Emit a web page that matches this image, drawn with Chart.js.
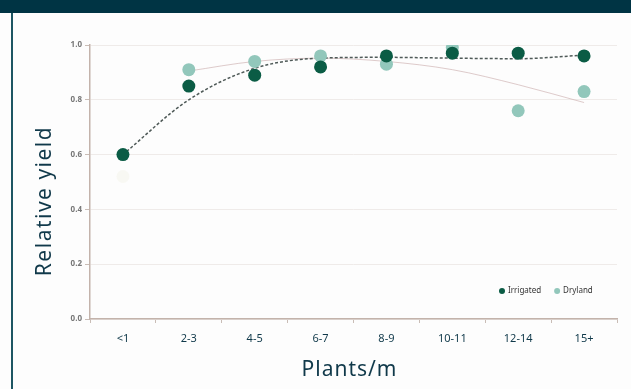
<!DOCTYPE html>
<html>
<head>
<meta charset="utf-8">
<script src="https://cdn.jsdelivr.net/npm/chart.js@4.4.1/dist/chart.umd.min.js"></script>
<style>
  html, body { margin: 0; padding: 0; background: #fff; }
  #wrap { position: relative; width: 631px; height: 389px; overflow: hidden; background: #fdfdfd; }
  #band { position: absolute; left: 0; top: 0; width: 631px; height: 13px; background: #003444; }
  #edge { position: absolute; left: 11px; top: 13px; width: 2px; height: 376px; background: #1d5663; }
  #cv { position: absolute; left: 0; top: 0; }
</style>
</head>
<body>
<div id="wrap">
  <canvas id="cv" width="631" height="389"></canvas>
  <div id="band"></div>
  <div id="edge"></div>
</div>
<script>
// categories and values
var plants = ['<1', '2-3', '4-5', '6-7', '8-9', '10-11', '12-14', '15+'];
var irrigated = [0.60, 0.85, 0.89, 0.92, 0.96, 0.97, 0.97, 0.96];
var dryland = [0.52, 0.91, 0.94, 0.96, 0.93, 0.99, 0.76, 0.83];
var irrigatedTrend = [0.60, 0.80, 0.915, 0.952, 0.955, 0.952, 0.95, 0.963];
var drylandTrend = [null, 0.905, 0.94, 0.952, 0.94, 0.91, 0.855, 0.79];
var yTicks = [0, 0.2, 0.4, 0.6, 0.8, 1.0];

var darkGreen = '#0b5c45';
var lightGreen = '#92c7bb';
var ink = '#10394a';

var dotColors = dryland.map(function(v, i) {
	return i === 0 ? 'rgba(238,238,222,0.3)' : lightGreen;
});

// legend in the bottom right corner of the plot + the two axis titles
var extras = {
	id: 'extras',
	afterDraw: function(chart) {
		var ctx = chart.ctx;
		var a = chart.chartArea;
		var y = a.bottom - 28;
		var items = [['Irrigated', darkGreen], ['Dryland', lightGreen]];
		var x = a.right - 115;
		ctx.save();
		ctx.font = '8px "Noto Sans"';
		ctx.textBaseline = 'middle';
		items.forEach(function(it) {
			ctx.fillStyle = it[1];
			ctx.beginPath();
			ctx.arc(x, y, 3, 0, Math.PI * 2);
			ctx.fill();
			ctx.fillStyle = '#333';
			ctx.fillText(it[0], x + 6, y);
			x += ctx.measureText(it[0]).width + 22;
		});

		ctx.fillStyle = ink;
		ctx.font = '21px "Noto Sans"';
		ctx.textAlign = 'center';
		ctx.letterSpacing = '1px';
		ctx.fillText('Plants/m', (a.left + a.right) / 2 - 4, a.bottom + 51);

		ctx.letterSpacing = '1.5px';
		ctx.translate(a.left - 45, (a.top + a.bottom) / 2 + 19);
		ctx.rotate(-Math.PI / 2);
		ctx.fillText('Relative yield', 0, 0);
		ctx.restore();
	}
};

var chart = new Chart(document.getElementById('cv'), {
	type: 'line',
	data: {
		labels: plants,
		datasets: [
			{
				label: 'Irrigated',
				data: irrigated,
				showLine: false,
				pointRadius: 6.5,
				pointBackgroundColor: darkGreen,
				pointBorderWidth: 0,
				order: 1
			},
			{
				label: 'Dryland',
				data: dryland,
				showLine: false,
				pointRadius: 6.5,
				pointBackgroundColor: dotColors,
				pointBorderWidth: 0,
				order: 2
			},
			{
				label: 'Irrigated trend',
				data: irrigatedTrend,
				borderColor: '#4f5a58',
				borderWidth: 1.5,
				borderDash: [3, 2],
				pointRadius: 0,
				cubicInterpolationMode: 'monotone',
				order: 3
			},
			{
				label: 'Dryland trend',
				data: drylandTrend,
				borderColor: 'rgba(205,175,175,0.65)',
				borderWidth: 1,
				pointRadius: 0,
				cubicInterpolationMode: 'monotone',
				order: 4
			}
		]
	},
	options: {
		responsive: false,
		animation: false,
		layout: { padding: { left: 26, right: 14, top: 45, bottom: 0 } },
		plugins: {
			legend: { display: false },
			tooltip: { enabled: false }
		},
		scales: {
			x: {
				offset: true,
				afterFit: function(scale) { scale.height = 70; },
				grid: { offset: true, drawOnChartArea: false, tickLength: 4, color: '#c9bdb6' },
				border: { color: '#c3b3ab', width: 1.5 },
				ticks: { color: ink, font: { family: 'Noto Sans', size: 11 }, padding: 9 }
			},
			y: {
				min: 0,
				max: 1,
				afterBuildTicks: function(scale) {
					scale.ticks = yTicks.map(function(v) { return { value: v }; });
				},
				afterFit: function(scale) { scale.width = 64; },
				grid: { color: '#efebe9', tickLength: 5, tickColor: '#c9bdb6' },
				border: { color: '#c3b3ab', width: 1.5 },
				ticks: {
					color: '#777',
					font: { family: 'Noto Sans', size: 8, weight: 'bold' },
					padding: 3,
					callback: function(v) { return Number(v).toFixed(1); }
				}
			}
		}
	},
	plugins: [extras]
});
</script>
</body>
</html>
